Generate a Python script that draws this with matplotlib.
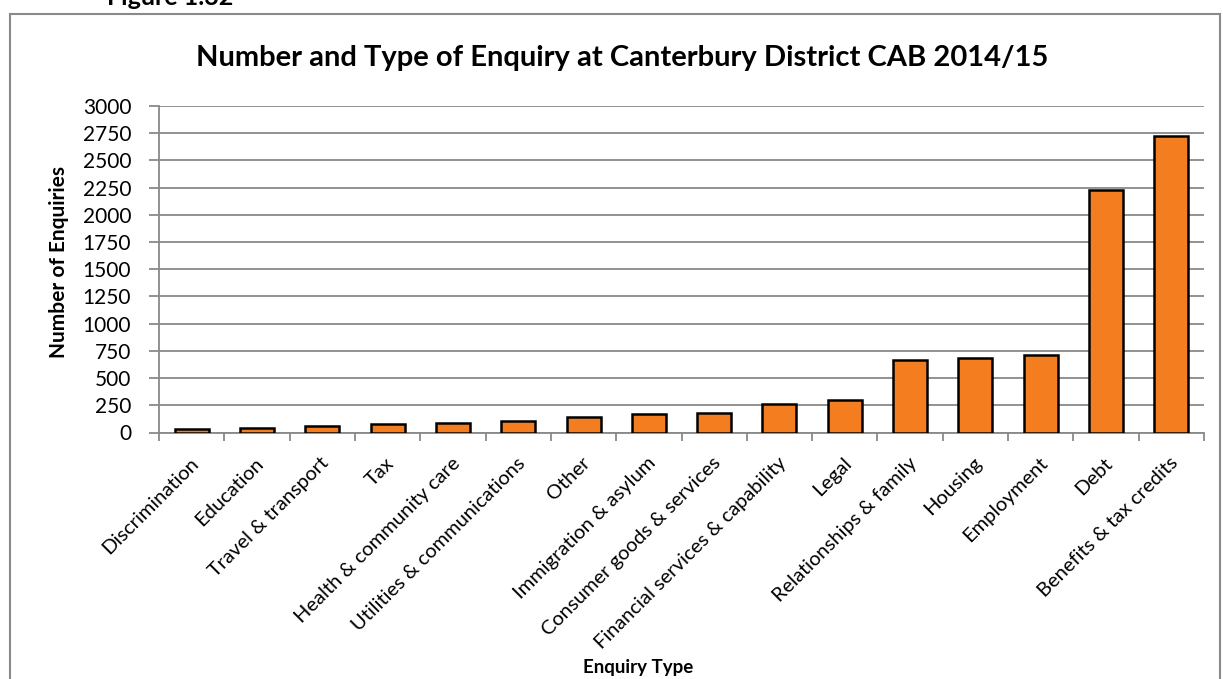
import matplotlib
matplotlib.use("Agg")
import matplotlib.pyplot as plt
import matplotlib.transforms as mtransforms
from matplotlib.patches import Rectangle

categories = ["Discrimination", "Education", "Travel & transport", "Tax",
              "Health & community care", "Utilities & communications", "Other",
              "Immigration & asylum", "Consumer goods & services",
              "Financial services & capability", "Legal", "Relationships & family",
              "Housing", "Employment", "Debt", "Benefits & tax credits"]
values = [35, 42, 61, 74, 86, 110, 147, 171, 175, 263, 297, 662, 686, 711, 2225, 2720]
yticks = [0, 250, 500, 750, 1000, 1250, 1500, 1750, 2000, 2250, 2500, 2750, 3000]

plt.rcParams['font.family'] = ['Lato', 'DejaVu Sans']

fig = plt.figure(figsize=(12.23, 6.79), dpi=100)
W, H = 1223, 679
L, R, T, B = 159, 1204, 106, 432.5
ax = fig.add_axes([L / W, 1 - B / H, (R - L) / W, (B - T) / H])

grid_c = "#898989"
x = list(range(len(categories)))
ax.bar(x, values, width=0.52, color="#F47D20", edgecolor="black", linewidth=1.8, zorder=3)

ax.set_xlim(-0.5, len(categories) - 0.5)
ax.set_ylim(0, 3000)
ax.set_yticks(yticks)
ax.set_yticklabels([str(v) for v in yticks], fontsize=15)
ax.yaxis.grid(True, color=grid_c, linewidth=1.3, zorder=0)
ax.set_axisbelow(True)

ax.set_xticks(x)
ax.set_xticklabels(categories, rotation=45, ha="right", va="center",
                   rotation_mode="anchor", fontsize=14.5)
ax.tick_params(axis="x", length=0, pad=20)
offset = mtransforms.ScaledTranslation(4 / 100, 0, fig.dpi_scale_trans)
for lab in ax.get_xticklabels():
    lab.set_transform(lab.get_transform() + offset)
ax.set_xticks([i - 0.5 for i in range(len(categories) + 1)], minor=True)
ax.tick_params(axis="x", which="minor", length=6, color=grid_c, width=1.3)
ax.tick_params(axis="y", length=7, color=grid_c, width=1.3, pad=13)

for s in ["top", "right"]:
    ax.spines[s].set_visible(False)
for s in ["left", "bottom"]:
    ax.spines[s].set_color(grid_c)
    ax.spines[s].set_linewidth(1.3)

fig.text(59 / W, 1 - 262 / H, "Number of Enquiries", fontsize=15, fontweight="bold",
         rotation=90, ha="center", va="center")
fig.text(638 / W, 1 - 668 / H, "Enquiry Type", fontsize=13.5,
         fontweight="bold", ha="center", va="center")
fig.text(622 / W, 1 - 58 / H,
         "Number and Type of Enquiry at Canterbury District CAB 2014/15",
         fontsize=21, fontweight="bold", ha="center", va="center")
fig.text(107 / W, 1 - 5 / H, "Figure 1.32", fontsize=18, fontweight="bold",
         ha="left", va="baseline")

fig.patches.append(Rectangle((10 / W, -0.1), (1220 - 10) / W, 1 - 14 / H + 0.1,
                             transform=fig.transFigure, fill=False,
                             edgecolor=grid_c, linewidth=1.5))

fig.savefig("out.png", dpi=100)
